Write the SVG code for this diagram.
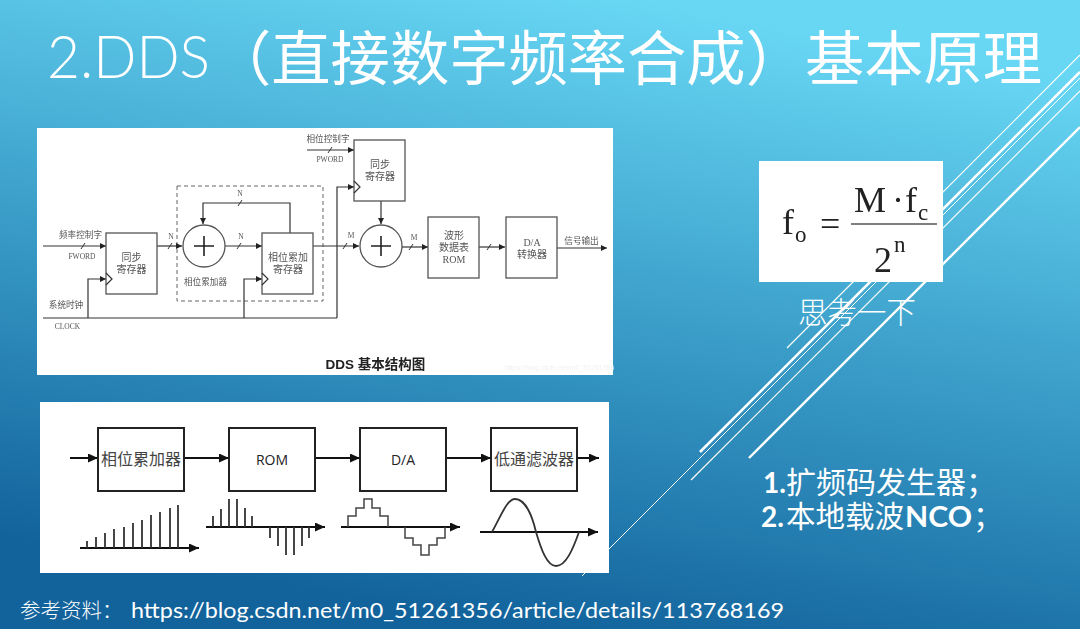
<svg xmlns="http://www.w3.org/2000/svg" width="1080" height="629" viewBox="0 0 1080 629">
<style>
.ti{font-family:"Lato","Liberation Sans",sans-serif;fill:#fff;font-weight:400}
.cj{font-family:"Noto Sans CJK SC",sans-serif;fill:#fff;font-weight:400}
.lt{font-weight:300}
.b{font-family:"Lato","Liberation Sans",sans-serif;fill:#fff;font-weight:700}
.u{fill:#555;font-family:"Liberation Serif","Noto Sans CJK SC",serif;text-anchor:middle;font-size:8.6px}
.big{font-size:10px}
.sm{font-size:7.5px}
.box{fill:#fff;stroke:#555;stroke-width:1.3}
.w{fill:none;stroke:#333;stroke-width:1.2}
.pl{fill:none;stroke:#222;stroke-width:1.6}
.tick{fill:none;stroke:#333;stroke-width:1}
.ar{marker-end:url(#a1)}
.lbox{fill:#fff;stroke:#222;stroke-width:2}
.lw{fill:none;stroke:#111;stroke-width:2}
.la{marker-end:url(#a2)}
.sp{fill:none;stroke:#333;stroke-width:1.8}
.st{fill:none;stroke:#444;stroke-width:1.5}
.f{font-family:"Liberation Serif",serif;fill:#222;font-size:36px}
.fs{font-size:23px}
.dl{stroke:#fff;fill:none}
</style>
<defs>
<linearGradient id="bg" gradientUnits="userSpaceOnUse" x1="640" y1="0" x2="530" y2="629">
<stop offset="0" stop-color="#68d7f4"/><stop offset="0.5" stop-color="#3a9dc8"/><stop offset="1" stop-color="#12639c"/>
</linearGradient>
<marker id="a1" markerUnits="userSpaceOnUse" markerWidth="7" markerHeight="7" refX="6" refY="3" orient="auto"><path d="M0 0L6 3L0 6Z" fill="#222"/></marker>
<marker id="a2" markerUnits="userSpaceOnUse" markerWidth="11" markerHeight="10" refX="10" refY="4.5" orient="auto"><path d="M0 0L10 4.5L0 9Z" fill="#111"/></marker>
<filter id="soft" x="-2%" y="-2%" width="104%" height="104%"><feGaussianBlur stdDeviation="0.35"/></filter>
</defs>
<rect width="1080" height="629" fill="url(#bg)"/>
<g id="background-lines">
<path class="dl" stroke-width="1.2" d="M787 348L1080 55"/>
<path class="dl" stroke-width="2.6" d="M700 452L1080 72"/>
<path class="dl" stroke-width="1" d="M582 576L1080 78"/>
<path class="dl" stroke-width="1.2" d="M691 480L1080 91"/>
<path class="dl" stroke-width="2.4" d="M749 458L1080 127"/>
</g>
<g id="title">
<text class="ti lt" x="47" y="78" font-size="60" textLength="163" lengthAdjust="spacingAndGlyphs">2.DDS</text>
<text class="cj" x="212" y="80" font-size="59.3">（直接数字频率合成）基本原理</text>
</g>
<g id="dds-structure">
<rect x="37" y="128" width="576" height="247" fill="#fff"/>
<g filter="url(#soft)">
<g id="connectors-upper">
<rect x="177" y="186" width="146" height="115" fill="none" stroke="#666" stroke-width="1" stroke-dasharray="4 3"/>
<path class="w ar" d="M43 246H106"/>
<path class="w ar" d="M157 246H182"/>
<path class="w ar" d="M225 246H262"/>
<path class="w ar" d="M290 233V203H203V224"/>
<path class="w" d="M43 318H337"/>
<path class="w ar" d="M88 318V279H106"/>
<path class="w ar" d="M244 318V279H262"/>
<path class="w ar" d="M337 318V187H354"/>
<path class="w ar" d="M307 150H354"/>
<path class="w ar" d="M381 201V224"/>
<path class="w ar" d="M313 246H359"/>
<path class="w ar" d="M402 247H428"/>
<path class="w ar" d="M479 247H505"/>
<path class="w ar" d="M557 248H607"/>
<path class="tick" d="M81 249L85 243M168 249L172 243M237 249L241 243M238 206L242 200M343 249L347 243M409 250L413 244M487 250L491 244M328 153L332 147"/>
</g>
<g id="u-reg1"><rect class="box" x="106" y="233" width="51" height="61"/><path class="w" d="M106 273L112 279L106 285"/><text class="u big" x="131.5" y="261">同步</text><text class="u big" x="131.5" y="273">寄存器</text></g>
<g id="u-add1"><circle class="box" cx="204" cy="246" r="21"/><path class="pl" d="M194 246H214M204 236V256"/></g>
<g id="u-reg2"><rect class="box" x="262" y="233" width="51" height="61"/><path class="w" d="M262 273L268 279L262 285"/><text class="u big" x="288" y="261">相位累加</text><text class="u big" x="288" y="273">寄存器</text></g>
<g id="u-reg3"><rect class="box" x="354" y="140" width="51" height="61"/><path class="w" d="M354 181L360 187L354 193"/><text class="u big" x="380" y="168">同步</text><text class="u big" x="380" y="180">寄存器</text></g>
<g id="u-add2"><circle class="box" cx="381" cy="246" r="21"/><path class="pl" d="M371 246H391M381 236V256"/></g>
<g id="u-rom"><rect class="box" x="428" y="217" width="51" height="61"/><text class="u big" x="454" y="239">波形</text><text class="u big" x="454" y="251">数据表</text><text class="u big" x="454" y="263">ROM</text></g>
<g id="u-da"><rect class="box" x="506" y="217" width="51" height="61"/><text class="u big" x="532" y="246">D/A</text><text class="u big" x="532" y="258">转换器</text></g>
<g id="u-labels">
<text class="u" x="80.5" y="238">频率控制字</text>
<text class="u sm" x="82" y="259">FWORD</text>
<text class="u" x="66" y="308">系统时钟</text>
<text class="u sm" x="67.5" y="329">CLOCK</text>
<text class="u" x="205.5" y="285">相位累加器</text>
<text class="u sm" x="171" y="239">N</text>
<text class="u sm" x="241" y="239">N</text>
<text class="u sm" x="240" y="196">N</text>
<text class="u sm" x="351" y="238">M</text>
<text class="u sm" x="414" y="240">M</text>
<text class="u" x="328" y="142">相位控制字</text>
<text class="u sm" x="330" y="162">PWORD</text>
<text class="u" x="581.5" y="244">信号输出</text>
</g>
<text x="375.5" y="369" text-anchor="middle" font-family="Liberation Sans,Noto Sans CJK SC,sans-serif" font-weight="700" font-size="13.5" fill="#222">DDS 基本结构图</text>
<text x="505" y="370" font-family="Liberation Sans,sans-serif" font-size="7" fill="#f0f0f0">https://blog.csdn.net/m0_51261356</text>
</g>
</g>
<g id="signal-chain">
<rect x="40" y="402" width="569" height="171" fill="#fff"/>
<g id="connectors-lower">
<path class="lw la" d="M70 458H98"/>
<path class="lw la" d="M184 458H229"/>
<path class="lw la" d="M315 458H360"/>
<path class="lw la" d="M446 458H491"/>
<path class="lw la" d="M577 458H599"/>
</g>
<g id="l-acc"><rect class="lbox" x="98" y="428" width="86" height="63"/><text x="141" y="465" text-anchor="middle" font-family="Noto Sans CJK SC,sans-serif" font-size="16" fill="#444">相位累加器</text></g>
<g id="l-rom"><rect class="lbox" x="229" y="428" width="86" height="63"/><text x="272" y="465" text-anchor="middle" font-family="Open Sans,sans-serif" font-size="14" fill="#222">ROM</text></g>
<g id="l-da"><rect class="lbox" x="360" y="428" width="86" height="63"/><text x="403" y="465" text-anchor="middle" font-family="Open Sans,sans-serif" font-size="14" fill="#222">D/A</text></g>
<g id="l-lpf"><rect class="lbox" x="491" y="428" width="86" height="63"/><text x="534" y="465" text-anchor="middle" font-family="Noto Sans CJK SC,sans-serif" font-size="16" fill="#444">低通滤波器</text></g>
<g id="waveforms">
<path class="lw la" d="M80 548H199"/>
<path class="sp" d="M87 548V541M96 548V537M105 548V533M114 548V529M124 548V527M133 548V523M142 548V520M151 548V515M160 548V512M170 548V508M178 548V505"/>
<path class="lw la" d="M206 527H325"/>
<path class="sp" d="M213 527V516M221 527V509M229 527V499M237 527V499M245 527V508M252 527V516M270 527V538M278 527V546M286 527V555M294 527V555M302 527V546M309 527V538"/>
<path class="lw la" d="M341 527H460"/>
<path class="st" d="M348 527V516H356V508H364V499H372V508H380V516H388V527M405 527V538H413V545H421V555H429V545H437V538H445V527"/>
<path class="lw la" d="M480 532H598"/>
<path class="sp" d="M492 532C501 516 507 499 515 499C525 499 532 515 536 532C541 549 547 566 556 566C566 566 573 549 579 532"/>
</g>
</g>
<g id="formula">
<rect x="759" y="161" width="184" height="121" fill="#fff"/>
<g filter="url(#soft)">
<text class="f" x="782" y="234">f</text><text class="f fs" x="795" y="242">o</text>
<text class="f" x="820" y="236">=</text>
<text class="f" x="854" y="212">M</text><text class="f" x="892" y="212">·</text><text class="f" x="905" y="212">f</text><text class="f fs" x="918" y="220">c</text>
<path d="M851 224H937" stroke="#555" stroke-width="1.5" fill="none"/>
<text class="f" x="874" y="272">2</text><text class="f fs" x="894" y="252">n</text>
</g>
</g>
<g id="notes">
<text class="cj lt" x="798" y="323" font-size="29.5">思考一下</text>
<text class="b" x="763" y="493" font-size="28">1.</text>
<text class="cj" x="786" y="493" font-size="30">扩频码发生器；</text>
<text class="b" x="761" y="527" font-size="28">2.</text>
<text class="cj" x="786" y="527" font-size="29.5">本地载波</text>
<text class="b" x="905" y="527" font-size="29" textLength="67" lengthAdjust="spacingAndGlyphs">NCO</text>
<text class="cj" x="973" y="527" font-size="30">；</text>
</g>
<g id="footer">
<text class="cj lt" x="20" y="618" font-size="20.5">参考资料：</text>
<text class="ti" x="131" y="618" font-size="22" textLength="653" lengthAdjust="spacingAndGlyphs">https://blog.csdn.net/m0_51261356/article/details/113768169</text>
</g>
</svg>
